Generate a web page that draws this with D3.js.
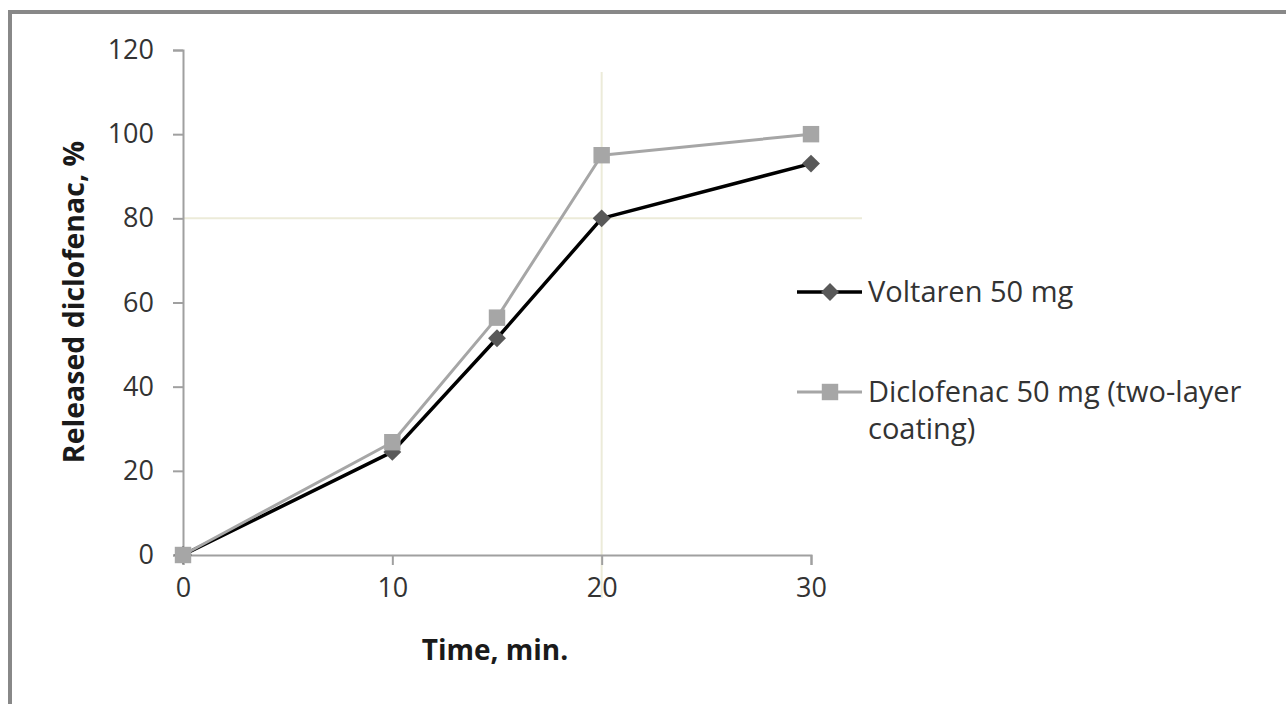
<!DOCTYPE html>
<html>
<head>
<meta charset="utf-8">
<script src="https://cdn.jsdelivr.net/npm/d3@7"></script>
<style>
  body { margin: 0; background: #fff; }
  svg { display: block; font-family: "Open Sans", Lato, sans-serif; }
</style>
</head>
<body>
<svg id="chart" width="1286" height="704"></svg>
<script>
// release profile
var times = [0, 10, 15, 20, 30];
var voltaren = [0, 24.5, 51.5, 80, 93];
var diclofenac = [0, 26.8, 56.4, 95, 100];
var seriesNames = ['Voltaren 50 mg', 'Diclofenac 50 mg (two-layer', 'coating)'];
var xTicks = [0, 10, 20, 30];
var yTicks = [0, 20, 40, 60, 80, 100, 120];
var refTime = 20, refRelease = 80;

var svg = d3.select('#chart');

// frame (only top + left edges show in the picture)
svg.append('rect')
  .attr('x', 10).attr('y', 12)
  .attr('width', 1400).attr('height', 800)
  .attr('fill', 'none')
  .attr('stroke', '#888')
  .attr('stroke-width', 4);

var x = d3.scaleLinear().domain([0, 30]).range([183, 811]);
var y = d3.scaleLinear().domain([0, 120]).range([555, 50]);

// the two thin guide lines at 20 min / 80 %
svg.append('line')
  .attr('x1', x(refTime)).attr('x2', x(refTime))
  .attr('y1', 72).attr('y2', 598)
  .attr('stroke', '#ecebd9').attr('stroke-width', 2);
svg.append('line')
  .attr('x1', x(0)).attr('x2', 862)
  .attr('y1', y(refRelease)).attr('y2', y(refRelease))
  .attr('stroke', '#ecebd9').attr('stroke-width', 2);

function styleAxis(g) {
  g.selectAll('path, line').attr('stroke', '#a0a0a0').attr('stroke-width', 2);
  g.selectAll('text').attr('fill', '#333').attr('font-size', 27)
    .attr('font-family', '"Open Sans", Lato, sans-serif');
}

svg.append('g')
  .attr('transform', 'translate(0,' + y(0) + ')')
  .call(d3.axisBottom(x).tickValues(xTicks).tickSize(10).tickSizeOuter(10).tickPadding(13))
  .call(styleAxis);

svg.append('g')
  .attr('transform', 'translate(' + x(0) + ',0)')
  .call(d3.axisLeft(y).tickValues(yTicks).tickSize(10).tickSizeOuter(10).tickPadding(19))
  .call(styleAxis);

svg.append('text')
  .attr('x', 495).attr('y', 660)
  .attr('text-anchor', 'middle')
  .attr('font-weight', 'bold').attr('font-size', 28)
  .attr('fill', '#1a1a1a')
  .text('Time, min.');

svg.append('text')
  .attr('transform', 'translate(84,302) rotate(-90)')
  .attr('text-anchor', 'middle')
  .attr('font-weight', 'bold').attr('font-size', 28.5)
  .attr('fill', '#1a1a1a')
  .text('Released diclofenac, %');

var line = d3.line()
  .x(function(d) { return x(d[0]); })
  .y(function(d) { return y(d[1]); });

var diamond = d3.symbol().type(d3.symbolSquare).size(160);
var square = d3.symbol().type(d3.symbolSquare).size(270);

var series = [
  { values: voltaren, stroke: '#000', width: 3.5, fill: '#595959', sym: diamond, rot: 45 },
  { values: diclofenac, stroke: '#a6a6a6', width: 3, fill: '#a6a6a6', sym: square, rot: 0 }
];

series.forEach(function(s) {
  var pts = times.map(function(t, i) { return [t, s.values[i]]; });
  svg.append('path')
    .datum(pts)
    .attr('d', line)
    .attr('fill', 'none')
    .attr('stroke', s.stroke)
    .attr('stroke-width', s.width)
    .attr('stroke-linejoin', 'round');
  svg.selectAll(null)
    .data(pts)
    .enter().append('path')
    .attr('d', s.sym)
    .attr('fill', s.fill)
    .attr('transform', function(d) {
      return 'translate(' + x(d[0]) + ',' + y(d[1]) + ') rotate(' + s.rot + ')';
    });
});

// legend
var legendY = [292, 392];
series.forEach(function(s, i) {
  var g = svg.append('g').attr('transform', 'translate(797,' + legendY[i] + ')');
  g.append('line')
    .attr('x1', 0).attr('x2', 65)
    .attr('stroke', s.stroke).attr('stroke-width', s.width);
  g.append('path')
    .attr('d', s.sym)
    .attr('fill', s.fill)
    .attr('transform', 'translate(33,0) rotate(' + s.rot + ')');
});

svg.append('text')
  .attr('x', 868).attr('y', legendY[0]).attr('dy', '0.35em')
  .attr('font-size', 29).attr('fill', '#333')
  .text(seriesNames[0]);

var t2 = svg.append('text')
  .attr('x', 868).attr('y', legendY[1]).attr('dy', '0.35em')
  .attr('font-size', 29).attr('fill', '#333');
t2.append('tspan').text(seriesNames[1]);
t2.append('tspan').attr('x', 868).attr('dy', 37).text(seriesNames[2]);
</script>
</body>
</html>
